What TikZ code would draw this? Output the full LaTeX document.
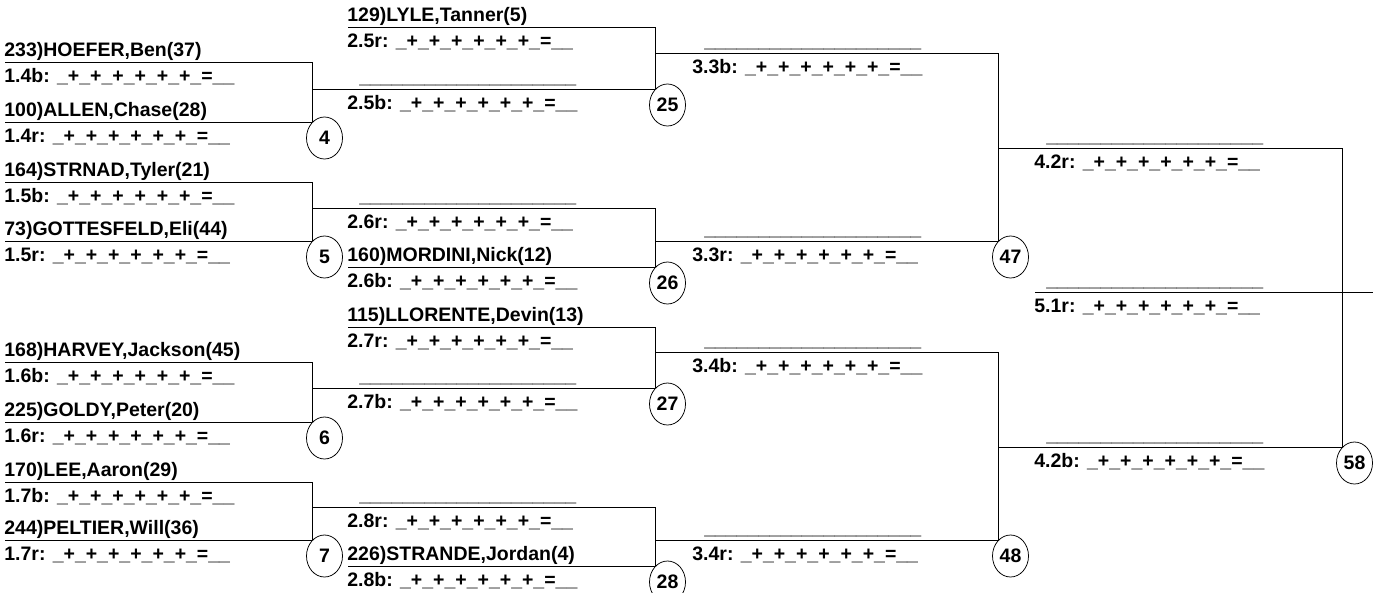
\documentclass[tikz,border=0pt]{standalone}
\usepackage{fontspec}
\setmainfont{Liberation Sans}
\usetikzlibrary{shapes.geometric,calc}
\newcommand\tally{\_+\_+\_+\_+\_+\_+\_=\_\_}
\newcommand\blank{\hspace*{12pt}\_\_\_\_\_\_\_\_\_\_\_\_\_\_\_\_\_\_\_\_}
\newcommand\slot[7]{%
  \coordinate (#1-a) at (#2,#4);
  \coordinate (#1-b) at (#3,#4);
  \draw (#1-a) -- (#1-b);
  \node[lbl] (#1-n) at (#5,#4-5.5) {#6};
  \node[lbl] (#1-s) at (#5,#4+20) {#7: \tally};}
\begin{document}
\begin{tikzpicture}[x=1pt,y=-1pt,line width=0.75pt,font=\fontsize{19.5}{22}\selectfont\bfseries,
  lbl/.style={anchor=base west,inner sep=0pt},
  seed/.style={draw,ellipse,fill=white,minimum width=36pt,minimum height=42pt,inner sep=0pt}]
\useasboundingbox (0,0) rectangle (1373,592);
\slot{s14b}{5}{312}{62}{4}{233)HOEFER,Ben(37)}{1.4b}
\slot{s14r}{5}{312}{122}{4}{100)ALLEN,Chase(28)}{1.4r}
\slot{s15b}{5}{312}{182}{4}{164)STRNAD,Tyler(21)}{1.5b}
\slot{s15r}{5}{312}{241}{4}{73)GOTTESFELD,Eli(44)}{1.5r}
\slot{s16b}{5}{312}{362}{4}{168)HARVEY,Jackson(45)}{1.6b}
\slot{s16r}{5}{312}{422}{4}{225)GOLDY,Peter(20)}{1.6r}
\slot{s17b}{5}{312}{482}{4}{170)LEE,Aaron(29)}{1.7b}
\slot{s17r}{5}{312}{540}{4}{244)PELTIER,Will(36)}{1.7r}
\slot{s25r}{348}{655}{27}{347}{129)LYLE,Tanner(5)}{2.5r}
\slot{s25b}{312}{655}{89}{347}{\blank}{2.5b}
\slot{s26r}{312}{655}{208}{347}{\blank}{2.6r}
\slot{s26b}{348}{655}{267}{347}{160)MORDINI,Nick(12)}{2.6b}
\slot{s27r}{348}{655}{327}{347}{115)LLORENTE,Devin(13)}{2.7r}
\slot{s27b}{312}{655}{388}{347}{\blank}{2.7b}
\slot{s28r}{312}{655}{507}{347}{\blank}{2.8r}
\slot{s28b}{348}{655}{566}{347}{226)STRANDE,Jordan(4)}{2.8b}
\slot{s33b}{655}{998}{53}{692}{\blank}{3.3b}
\slot{s33r}{655}{998}{241}{692}{\blank}{3.3r}
\slot{s34b}{655}{998}{352}{692}{\blank}{3.4b}
\slot{s34r}{655}{998}{540}{692}{\blank}{3.4r}
\slot{s42r}{998}{1342}{148}{1034}{\blank}{4.2r}
\slot{s42b}{998}{1342}{447}{1034}{\blank}{4.2b}
\slot{s51r}{1035}{1373}{292}{1034}{\blank}{5.1r}
\foreach \p/\q in {s14b/s14r,s15b/s15r,s16b/s16r,s17b/s17r,s25r/s25b,s26r/s26b,
  s27r/s27b,s28r/s28b,s33b/s33r,s34b/s34r,s42r/s42b}
  \draw (\p-b) -- (\q-b);
\foreach \s/\n in {s14r/4,s15r/5,s16r/6,s17r/7,s25b/25,s26b/26,s27b/27,s28b/28,
  s33r/47,s34r/48,s42b/58}
  \node[seed] (m\n) at ($(\s-b)+(12.5,16)$) {\n};
\end{tikzpicture}
\end{document}
